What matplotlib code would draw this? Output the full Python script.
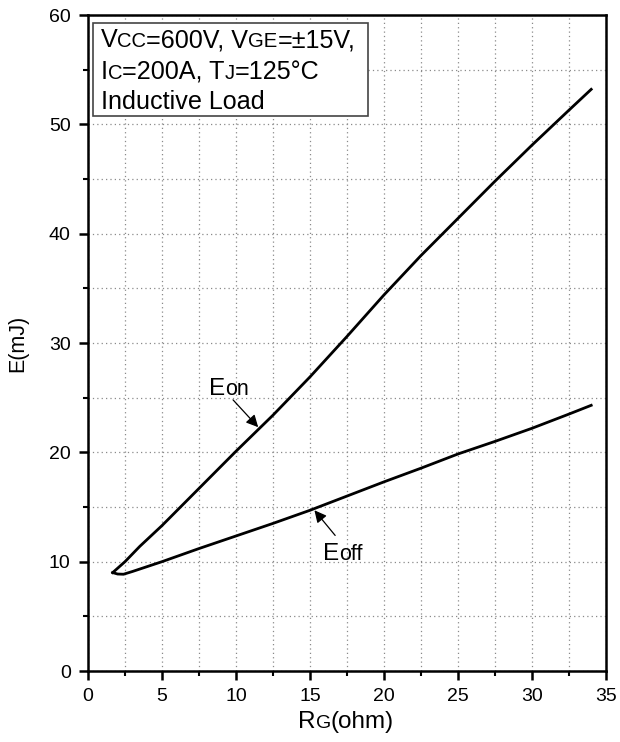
import numpy as np
import matplotlib
matplotlib.use('Agg')
import matplotlib.pyplot as plt
import matplotlib.transforms as mtransforms
from matplotlib.patches import Rectangle
from matplotlib.ticker import MultipleLocator

plt.rcParams['font.family'] = ['Liberation Sans', 'DejaVu Sans']

# switching energy vs gate resistance
rg_on = [1.67, 2.5, 3.5, 5, 7.5, 10, 12.5, 15, 17.5, 20, 22.5, 25, 27.5, 30, 32.5, 34]
e_on = [9.0, 10.0, 11.4, 13.3, 16.7, 20.1, 23.4, 26.9, 30.6, 34.4, 38.0, 41.4, 44.8, 48.1, 51.3, 53.2]

rg_off = [1.67, 2.0, 2.4, 3.0, 4.0, 5, 7.5, 10, 12.5, 15, 17.5, 20, 22.5, 25, 27.5, 30, 32.5, 34]
e_off = [9.0, 8.87, 8.85, 9.1, 9.55, 10.0, 11.2, 12.35, 13.5, 14.7, 16.0, 17.3, 18.55, 19.85, 21.0, 22.2, 23.5, 24.3]

BIG = 18.1
SMALL = 14.6


def rich_text(fig, base, x, y, parts, ha='left', zorder=5):
    # draw text pieces of different sizes on one baseline
    r = fig.canvas.get_renderer()
    texts = []
    widths = []
    for s, size in parts:
        t = fig.text(x, y, s, fontsize=size, transform=base, va='baseline',
                     ha='left', zorder=zorder)
        texts.append(t)
        widths.append(t.get_window_extent(r).width)
    shift = sum(widths) / 2.0 if ha == 'center' else 0.0
    cum = -shift
    for t, w in zip(texts, widths):
        t.set_transform(mtransforms.offset_copy(base, x=cum, y=0, units='dots', fig=fig))
        cum += w
    return texts


fig = plt.figure(figsize=(6.2, 7.42), dpi=100)
ax = fig.add_axes([88 / 620., 71 / 742., 518 / 620., 656 / 742.])

ax.plot(rg_on, e_on, color='k', lw=2.0, zorder=3, solid_joinstyle='round')
ax.plot(rg_off, e_off, color='k', lw=2.0, zorder=3, solid_joinstyle='round')

ax.set_xlim(0, 35)
ax.set_ylim(0, 60)
ax.xaxis.set_major_locator(MultipleLocator(5))
ax.xaxis.set_minor_locator(MultipleLocator(2.5))
ax.yaxis.set_major_locator(MultipleLocator(10))
ax.yaxis.set_minor_locator(MultipleLocator(5))

ax.grid(which='both', color='#8a8a8a', linestyle=(0, (1, 2.5)), lw=0.9, zorder=0)

for sp in ax.spines.values():
    sp.set_linewidth(1.8)
ax.tick_params(which='major', direction='out', length=6.5, width=1.8,
               labelsize=14, pad=6)
ax.tick_params(which='minor', direction='out', length=3.5, width=1.5)

# condition box
ax.add_patch(Rectangle((0.0097, 0.846), 0.531, 0.142, transform=ax.transAxes,
                       facecolor='white', edgecolor='#444444', lw=1.2, zorder=4))
rich_text(fig, ax.transAxes, 0.0245, 0.951,
          [('V', BIG), ('CC', SMALL), ('=600V, V', BIG), ('GE', SMALL), ('=\u00b115V,', BIG)])
rich_text(fig, ax.transAxes, 0.0245, 0.903,
          [('I', BIG), ('C', SMALL), ('=200A, T', BIG), ('J', SMALL), ('=125\u00b0C', BIG)])
rich_text(fig, ax.transAxes, 0.0245, 0.856, [('Inductive Load', BIG)])

# curve labels
rich_text(fig, ax.transData, 8.2, 25.2, [('E', 17.5), ('on', 15.5)])
rich_text(fig, ax.transData, 15.9, 10.15, [('E', 17.5), ('off', 15.5)])
ax.annotate('', xy=(11.5, 22.3), xytext=(9.8, 24.8),
            arrowprops=dict(arrowstyle='-|>', color='k', lw=0.9, mutation_scale=18,
                            shrinkA=0, shrinkB=0))
ax.annotate('', xy=(15.3, 14.7), xytext=(16.7, 12.4),
            arrowprops=dict(arrowstyle='-|>', color='k', lw=0.9, mutation_scale=18,
                            shrinkA=0, shrinkB=0))

# axis labels
rich_text(fig, fig.transFigure, 346 / 620., 14 / 742.,
          [('R', 17.5), ('G', 14), ('(ohm)', 17.5)], ha='center')
fig.text(18 / 620., (742 - 343) / 742., 'E(mJ)', fontsize=15.5, rotation=90,
         ha='center', va='center')

fig.savefig('out.png', dpi=100)
